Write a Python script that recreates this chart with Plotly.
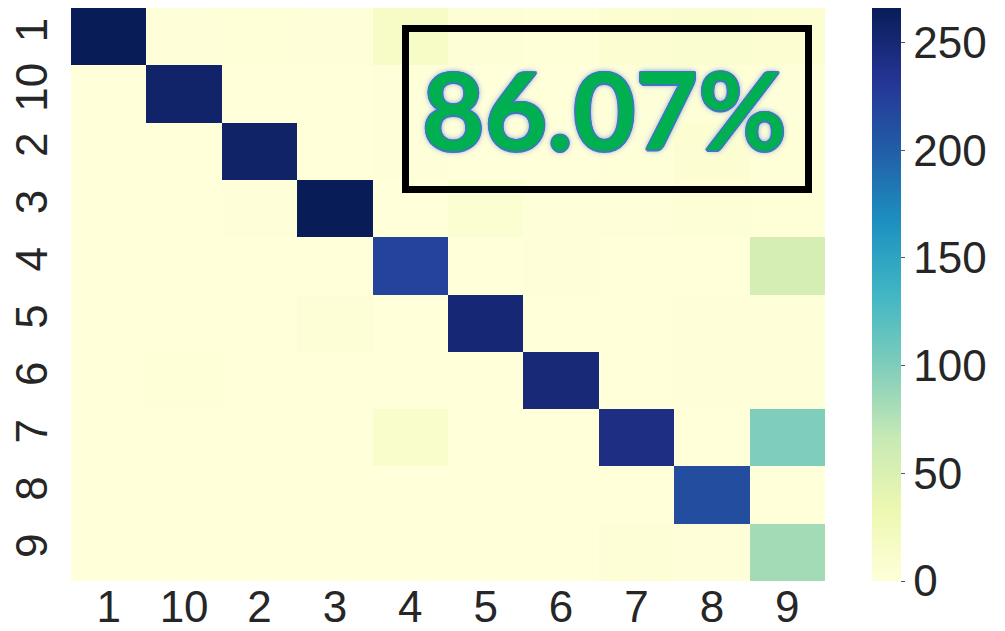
import plotly.graph_objects as go
import plotly.colors as pc

labels = ['1', '10', '2', '3', '4', '5', '6', '7', '8', '9']

row_1 = [266, 1, 2, 1, 15, 3, 2, 6, 10, 6]
row_10 = [0, 256, 0, 0, 1, 0, 0, 1, 2, 1]
row_2 = [0, 0, 258, 0, 1, 0, 0, 2, 6, 2]
row_3 = [0, 0, 1, 266, 0, 7, 1, 1, 3, 2]
row_4 = [0, 0, 0, 0, 220, 0, 1, 0, 0, 55]
row_5 = [0, 0, 0, 3, 0, 250, 0, 0, 1, 1]
row_6 = [0, 2, 0, 0, 0, 0, 248, 0, 1, 1]
row_7 = [0, 0, 0, 0, 12, 0, 0, 242, 0, 100]
row_8 = [0, 0, 0, 0, 0, 0, 0, 0, 212, 0]
row_9 = [0, 0, 0, 0, 0, 0, 0, 3, 1, 83]

z = [row_1, row_10, row_2, row_3, row_4, row_5, row_6, row_7, row_8, row_9]

accuracy_text = "86.07%"
cbar_ticks = [0, 50, 100, 150, 200, 250]

W, H = 1005, 631
L, R, T, B = 71, 180, 8, 50
pw, ph = W - L - R, H - T - B

tickfont = dict(family='Liberation Sans, Arial, sans-serif', size=44, color='#262626')

fig = go.Figure(go.Heatmap(
    z=z, x=labels, y=labels,
    colorscale=pc.sequential.YlGnBu,
    zmin=0, zmax=266,
    colorbar=dict(
        x=(872 - L) / pw, xanchor='left', xpad=0,
        y=0.5, yanchor='middle', ypad=0,
        len=1, lenmode='fraction', thickness=29,
        outlinewidth=0,
        tickvals=cbar_ticks, ticks='outside', ticklen=4, tickwidth=1,
        tickcolor='#555555',
        tickfont=tickfont,
    ),
))

fig.update_layout(
    width=W, height=H,
    margin=dict(l=L, r=R, t=T, b=B, pad=0, autoexpand=False),
    paper_bgcolor='white', plot_bgcolor='white',
    xaxis=dict(type='category', tickfont=tickfont, showgrid=False, zeroline=False,
               ticks='', ticklabelstandoff=-4, automargin=False),
    yaxis=dict(type='category', autorange='reversed', tickfont=tickfont, showgrid=False,
               zeroline=False, ticks='', tickangle=-90, ticklabelstandoff=14, automargin=False),
    shapes=[dict(type='rect', xref='paper', yref='paper',
                 x0=(405.5 - L) / pw, x1=(808.5 - L) / pw,
                 y0=1 - (189.5 - T) / ph, y1=1 - (28.5 - T) / ph,
                 line=dict(color='black', width=7))],
    annotations=[dict(
        text=accuracy_text, xref='paper', yref='paper',
        x=(604 - L) / pw, y=1 - (108 - T) / ph,
        xanchor='center', yanchor='middle', showarrow=False,
        font=dict(family='Lato, Open Sans, sans-serif', size=108, color='#00B050', weight='bold',
                  shadow='1.5px 0 0 #4472C4, -1.5px 0 0 #4472C4, 0 1.5px 0 #4472C4, 0 -1.5px 0 #4472C4, '
                         '1px 1px 0 #4472C4, -1px -1px 0 #4472C4, 1px -1px 0 #4472C4, -1px 1px 0 #4472C4, '
                         '0 0 7px #8FAADC, 0 0 4px #8FAADC'),
    )],
)

fig.write_html("out.html")
